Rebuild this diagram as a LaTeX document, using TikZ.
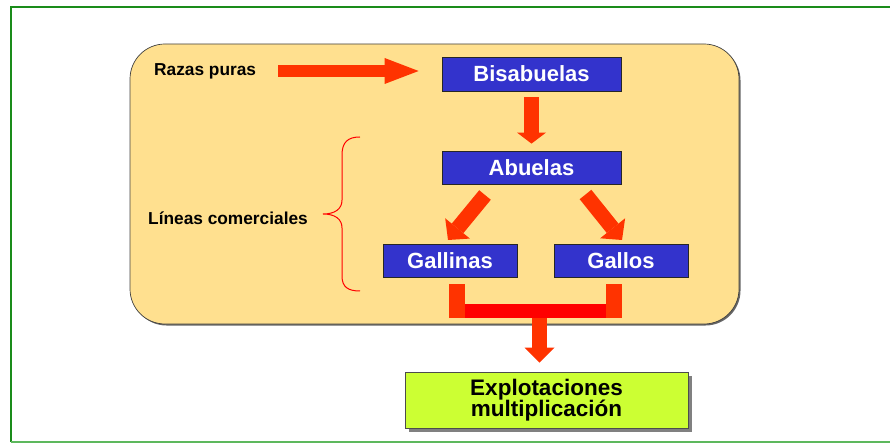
\documentclass[tikz,border=0pt]{standalone}
\usepackage{fontspec}
\setmainfont{Liberation Sans}
\usetikzlibrary{arrows.meta,calc}
\definecolor{frameg}{HTML}{1A8C1A}
\definecolor{framelg}{HTML}{5DB85D}
\definecolor{panel}{HTML}{FFE08F}
\definecolor{boxblue}{HTML}{3333CC}
\definecolor{arr}{HTML}{FF3300}
\definecolor{barred}{HTML}{FF0000}
\definecolor{lime}{HTML}{CCFF33}
\begin{document}
\begin{tikzpicture}[x=1pt,y=-1pt,
  bluebox/.style={draw=black!85, line width=0.8pt, fill=boxblue, text=white,
    font=\bfseries\fontsize{22}{25}\selectfont, inner sep=0pt,
    minimum height=33pt},
  lbl/.style={font=\bfseries\fontsize{17.3}{20}\selectfont, anchor=west, inner sep=0pt},
  blockarr/.style={arr, line width=#1},
  ]
\useasboundingbox (0,0) rectangle (890,443);
% frame
\draw[frameg, line width=2pt] (11,442) -- (11,7) -- (890,7);
\draw[framelg, line width=1.6pt] (11,442) -- (890,442);
% panel
\fill[black!60, rounded corners=35pt] (131.5,45.5) rectangle (740.5,325.5);
\draw[black!75, line width=0.7pt, fill=panel, rounded corners=35pt] (130,44) rectangle (739,324);
% nodes
\node[bluebox, minimum width=179pt, minimum height=34pt] (bis) at (531.5,74) {Bisabuelas};
\node[bluebox, minimum width=179pt] (abu) at (531.5,167.5) {Abuelas};
\node[bluebox, minimum width=134pt] (gna) at (450,260.5) {Gallinas};
\node[bluebox, minimum width=134pt] (gos) at (621,260.5) {Gallos};
\fill[black!50] (409,376) rectangle (692,432);
\node[draw=black!70, line width=0.6pt, fill=lime, minimum width=283pt, minimum height=56pt,
  inner sep=0pt, align=center, font=\bfseries\fontsize{22.5}{21.5}\selectfont] (exp) at (546.5,400)
  {Explotaciones\\multiplicación};
\node[lbl] (rp) at (154,71) {Razas puras};
\node[lbl] (lc) at (148,218) {Líneas comerciales};
% arrows
\coordinate (a1s) at (278,71);
\coordinate (a1e) at ($(bis.west)+(-23,-3)$);
\draw[blockarr=12pt, -{Triangle[length=34pt,width=26pt,line width=0pt]}] (a1s) -- (a1e);
\coordinate (a2s) at ($(bis.south)+(0,6)$);
\coordinate (a2e) at ($(abu.north)+(0,-7)$);
\draw[blockarr=15pt, -{Triangle[length=11pt,width=29pt,line width=0pt]}] (a2s) -- (a2e);
\coordinate (a3s) at (485,195);
\coordinate (a3e) at (448,240);
\draw[blockarr=15pt, -{Triangle[length=15pt,width=32pt,line width=0pt]}] (a3s) -- (a3e);
\coordinate (a4s) at (585.5,194.5);
\coordinate (a4e) at (622,240);
\draw[blockarr=15pt, -{Triangle[length=15pt,width=32pt,line width=0pt]}] (a4s) -- (a4e);
% bracket
\fill[barred] (465,304) rectangle (606,318);
\fill[arr] (449,284) rectangle (465,318);
\fill[arr] (606,284) rectangle (622,318);
\coordinate (a5s) at (539.5,318);
\coordinate (a5e) at ($(exp.north)+(-7,-9)$);
\draw[blockarr=15pt, -{Triangle[length=15pt,width=30pt,line width=0pt]}] (a5s) -- (a5e);
% brace
\draw[red, line width=1pt] (360,137) .. controls (348,137) and (342,142) .. (342,155) -- (342,200)
  .. controls (342,209) and (335,214) .. (323,214)
  .. controls (335,214) and (342,219) .. (342,228) -- (342,276)
  .. controls (342,287) and (348,291) .. (360,291);
\end{tikzpicture}
\end{document}
